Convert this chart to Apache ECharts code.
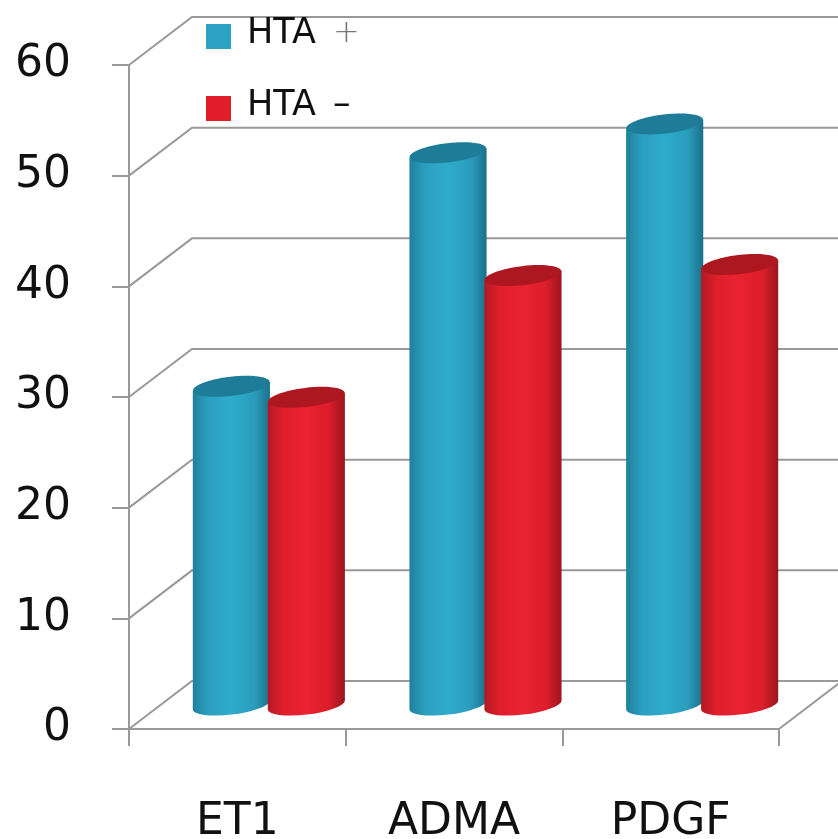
<!DOCTYPE html>
<html>
<head>
<meta charset="utf-8">
<title>HTA</title>
<script src="https://cdn.jsdelivr.net/npm/echarts@6/dist/echarts.min.js"></script>
<style>
html, body { margin: 0; padding: 0; background: #fff; }
#chart { width: 838px; height: 839px; }
</style>
</head>
<body>
<div id="chart"></div>
<script>
const categories = ['ET1', 'ADMA', 'PDGF'];
const htaPlus = [28.8, 49.9, 52.5];
const htaMinus = [27.8, 38.8, 39.8];
const yTicks = [0, 10, 20, 30, 40, 50, 60];

// depth of the fake 3d box
const depthX = 63;
const depthY = -48;
const lineColor = '#999999';

const blueStops = ['#1f7f9b', '#2b9fbf', '#30abcb', '#2a9cbc', '#1a6f8a'];
const redStops = ['#b01a22', '#df1f2b', '#ea2230', '#da1e2a', '#9a151c'];

function stops(colors) {
    return {
        type: 'linear', x: 0, y: 0, x2: 1, y2: 0,
        colorStops: [0, 0.2, 0.5, 0.8, 1].map((offset, i) => ({ offset: offset, color: colors[i] }))
    };
}

// diagonal on the side wall + the line along the back wall
function renderWall(params, api) {
    const p = api.coord([0, api.value(0)]);
    const sys = params.coordSys;
    const left = sys.x;
    const right = sys.x + sys.width;
    const style = { stroke: lineColor, lineWidth: 2, fill: null };
    const children = [{
        type: 'polyline',
        shape: { points: [[left, p[1]], [left + depthX, p[1] + depthY], [right + depthX, p[1] + depthY]] },
        style: style
    }];
    if (api.value(0) === 0) {
        children.push({
            type: 'line',
            shape: { x1: right, y1: p[1], x2: right + depthX, y2: p[1] + depthY },
            style: style
        });
    }
    return { type: 'group', children: children };
}

function cylinder(side, colors, topColor) {
    return function (params, api) {
        const idx = api.value(0);
        const band = api.size([1, 0])[0];
        const top = api.coord([idx, api.value(1)]);
        const base = api.coord([idx, 0]);
        const rx = band * 0.178;
        const ry = 9.5;
        const tilt = 4.5;
        const cx = top[0] + depthX / 2 + side * band * 0.173;
        const yTop = top[1] + depthY / 2;
        const yBase = base[1] + depthY / 2;
        const body = 'M' + (cx - rx) + ' ' + (yTop + tilt)
            + ' L' + (cx - rx) + ' ' + (yBase + tilt)
            + ' A' + rx + ' ' + ry + ' -7 0 0 ' + (cx + rx) + ' ' + (yBase - tilt)
            + ' L' + (cx + rx) + ' ' + (yTop - tilt) + ' Z';
        return {
            type: 'group',
            children: [
                { type: 'path', shape: { pathData: body }, style: { fill: stops(colors) } },
                {
                    type: 'ellipse',
                    x: cx, y: yTop, rotation: 0.12,
                    shape: { cx: 0, cy: 0, rx: rx, ry: ry },
                    style: { fill: topColor }
                }
            ]
        };
    };
}

const myChart = echarts.init(document.getElementById('chart'));

const option = {
    animation: false,
    backgroundColor: '#ffffff',
    // labels run close to the page edge, the grid must not shrink for them
    grid: { left: 129, right: 59, top: 65, bottom: 110, outerBoundsMode: 'none' },
    legend: {
        orient: 'vertical',
        left: 206,
        top: 16,
        padding: 0,
        itemWidth: 25,
        itemHeight: 25,
        itemGap: 37,
        selectedMode: false,
        data: [
            { name: 'HTA +', icon: 'rect' },
            { name: 'HTA \u2013', icon: 'rect' }
        ],
        formatter: name => {
            const parts = name.split(' ');
            return parts[0] + ' {' + (parts[1] === '+' ? 'p' : 'm') + '|' + parts[1] + '}';
        },
        textStyle: {
            color: '#111',
            fontFamily: 'DejaVu Sans',
            fontSize: 35,
            padding: [0, 0, 6, 11],
            rich: {
                p: { color: '#777', fontFamily: 'DejaVu Sans', fontWeight: 200, fontSize: 32, padding: [0, 0, 0, 6] },
                m: { color: '#111', fontFamily: 'DejaVu Sans', fontSize: 35, padding: [0, 0, 0, 6] }
            }
        },
        itemStyle: { borderWidth: 0 }
    },
    xAxis: {
        type: 'category',
        data: categories,
        axisLine: { lineStyle: { color: lineColor, width: 2 } },
        axisTick: { show: true, length: 17, alignWithLabel: false, lineStyle: { color: lineColor, width: 2 } },
        axisLabel: { color: '#111', fontFamily: 'DejaVu Sans', fontSize: 44, margin: 72 }
    },
    yAxis: {
        type: 'value',
        min: 0,
        max: 60,
        interval: 10,
        axisLine: { show: true, lineStyle: { color: lineColor, width: 2 } },
        axisTick: { show: true, length: 17, lineStyle: { color: lineColor, width: 2 } },
        axisLabel: { color: '#111', fontFamily: 'DejaVu Sans', fontSize: 44, margin: 58 },
        splitLine: { show: false }
    },
    series: [
        {
            name: 'wall',
            type: 'custom',
            silent: true,
            z: 1,
            clip: false,
            renderItem: renderWall,
            data: yTicks.map(v => [v]),
            encode: { y: 0 }
        },
        {
            name: 'HTA +',
            type: 'custom',
            z: 2,
            itemStyle: { color: '#2ca3c3' },
            renderItem: cylinder(-1, blueStops, '#1f7c98'),
            data: htaPlus.map((v, i) => [i, v]),
            encode: { x: 0, y: 1 }
        },
        {
            name: 'HTA \u2013',
            type: 'custom',
            z: 3,
            itemStyle: { color: '#e21d2a' },
            renderItem: cylinder(1, redStops, '#ad1720'),
            data: htaMinus.map((v, i) => [i, v]),
            encode: { x: 0, y: 1 }
        }
    ]
};

option && myChart.setOption(option);
</script>
</body>
</html>
